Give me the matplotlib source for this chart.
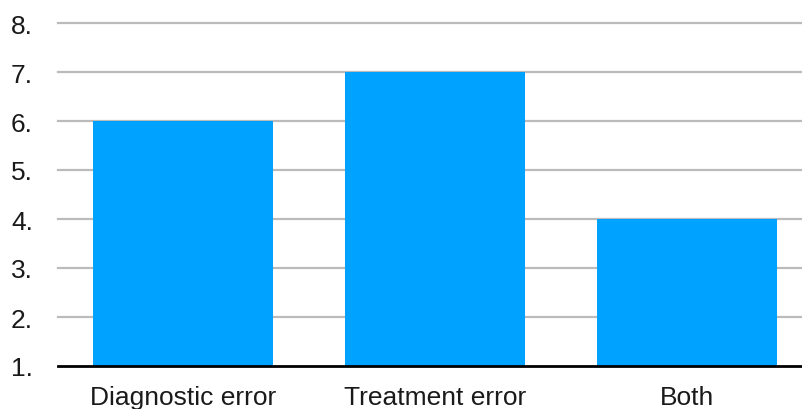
import matplotlib.pyplot as plt

plt.rcParams["font.family"] = ["Liberation Sans", "DejaVu Sans"]

categories = ["Diagnostic error", "Treatment error", "Both"]
counts = [6, 7, 4]
y_ticks = [1, 2, 3, 4, 5, 6, 7, 8]

BAR_COLOR = "#00a2ff"
GRID_COLOR = "#bbbbbb"

fig = plt.figure(figsize=(8.03, 4.10), dpi=100)
ax = fig.add_axes([58 / 803, 1 - 367 / 410, 1 - 58 / 803, (367 - 24) / 410])

x = range(len(categories))
ax.bar(x, counts, width=0.714, color=BAR_COLOR, zorder=3)

ax.set_xlim(-0.496, 2.46)
ax.set_ylim(1, 8)
ax.set_yticks(y_ticks, [f"{v}." for v in y_ticks])
ax.set_xticks(list(x), categories)
ax.tick_params(axis="both", length=0, labelsize=19, colors="#1a1a1a")
ax.tick_params(axis="y", pad=18)
ax.tick_params(axis="x", pad=14)

for v in y_ticks[1:]:
    ax.axhline(v, color=GRID_COLOR, linewidth=1.6, zorder=1, clip_on=False)
ax.axhline(1, color="black", linewidth=2, zorder=4, clip_on=False)

for side in ["top", "right", "left", "bottom"]:
    ax.spines[side].set_visible(False)

fig.savefig("out.png", dpi=100)
